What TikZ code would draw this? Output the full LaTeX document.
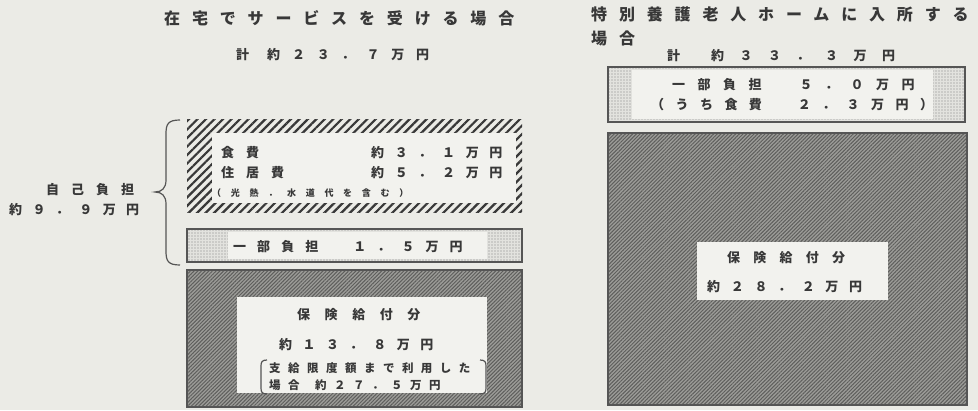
\documentclass[tikz,border=0pt]{standalone}
\usepackage{fontspec}
\newfontfamily\jp{Noto Sans CJK JP}
\usetikzlibrary{patterns.meta}
\newcommand\jt[2]{\jp\bfseries\fontsize{#1}{#1}\selectfont\addfontfeatures{LetterSpace=#2}}
\definecolor{paper}{HTML}{EBEBE6}
\definecolor{ink}{HTML}{383838}
\definecolor{frame}{HTML}{555555}
\definecolor{blank}{HTML}{F2F2EE}
\definecolor{stipbg}{HTML}{E2E2DE}
\definecolor{stip}{HTML}{808080}
\definecolor{shade}{HTML}{9C9C98}
\definecolor{shadeln}{HTML}{5E5E5C}
\tikzset{
  lbl/.style={anchor=west,inner sep=0pt,text=ink},
  hatchbox/.style={pattern={Lines[angle=45,distance=6pt,line width=2.2pt]},pattern color=ink},
  stipbox/.style={preaction={fill=stipbg},pattern={Dots[distance=3pt,radius=0.6pt]},pattern color=stip,draw=frame,line width=1.2pt},
  insbox/.style={preaction={fill=shade},pattern={Lines[angle=45,distance=2.6pt,line width=1pt]},pattern color=shadeln,draw=frame,line width=1.2pt},
  curl/.style={draw=frame,line width=1.2pt}
}
\begin{document}
\begin{tikzpicture}[x=1pt,y=-1pt]

\fill[paper] (0,0) rectangle (978,410);
\useasboundingbox (0,0) rectangle (978,410);

\fill[hatchbox] (187,119) rectangle (522,212);
\fill[blank] (212,133) rectangle (516,203);
\draw[stipbox] (187,229) rectangle (522,262);
\fill[blank] (228,232) rectangle (487,259);
\draw[insbox] (187,270) rectangle (522,407);
\fill[blank] (237,297) rectangle (487,393);

\draw[stipbox] (608,67) rectangle (965,122);
\fill[blank] (632,70) rectangle (933,119);
\draw[insbox] (608,133) rectangle (967,405);
\fill[blank] (697,242) rectangle (888,300);

\draw[curl] (180,120) .. controls (168,120) and (166,124) .. (166,134) -- (166,180)
  .. controls (166,188) and (162,192) .. (155,192) .. controls (162,192) and (166,196) .. (166,204)
  -- (166,251) .. controls (166,261) and (168,265) .. (180,265);
\draw[curl] (267,360) .. controls (262,360) and (261,362) .. (261,366) -- (261,388) .. controls (261,392) and (262,394) .. (267,394);
\draw[curl] (480,360) .. controls (485,360) and (486,362) .. (486,366) -- (486,388) .. controls (486,392) and (485,394) .. (480,394);

\node[lbl,font=\jt{16}{74}] (ttlL) at (164,18) {在宅でサービスを受ける場合};
\node[lbl,font=\jt{13}{91}] (sumL) at (236,55) {計\hspace{18pt}約２３．７万円};
\node[lbl,font=\jt{16}{74}] (ttlR) at (591,14) {特別養護老人ホームに入所する};
\node[lbl,font=\jt{16}{74}] (ttlRb) at (591,38) {場合};
\node[lbl,font=\jt{13}{119}] (sumR) at (667,56) {計\hspace{31pt}約３３．３万円};

\node[lbl,font=\jt{13}{92}] (selfA) at (46,190) {自己負担};
\node[lbl,font=\jt{13}{80}] (selfB) at (9,210) {約９．９万円};

\node[lbl,font=\jt{13}{92}] (foodL) at (221,153) {食費};
\node[lbl,font=\jt{13}{82}] (foodV) at (371,153) {約３．１万円};
\node[lbl,font=\jt{13}{92}] (houseL) at (221,173) {住居費};
\node[lbl,font=\jt{13}{82}] (houseV) at (371,173) {約５．２万円};
\node[lbl,font=\jt{9}{108}] (houseN) at (212,193) {（光熱．水道代を含む）};
\node[lbl,font=\jt{13}{85}] (copayL) at (233,247) {一部負担　１．５万円};
\node[lbl,font=\jt{13}{112}] (insL) at (297,315) {保険給付分};
\node[lbl,font=\jt{13}{81}] (insLv) at (279,345) {約１３．８万円};
\node[lbl,font=\jt{11.5}{65}] (limA) at (269,368) {支給限度額まで利用した};
\node[lbl,font=\jt{11.5}{65}] (limB) at (269,385) {場合\hspace{15.5pt}約２７．５万円};

\node[lbl,font=\jt{13}{96}] (copayR) at (672,85) {一部負担　５．０万円};
\node[lbl,font=\jt{13}{88}] (copayRn) at (651,105) {（うち食費　２．３万円）};
\node[lbl,font=\jt{13}{102}] (insR) at (727,258) {保険給付分};
\node[lbl,font=\jt{13}{82}] (insRv) at (707,287) {約２８．２万円};
\end{tikzpicture}
\end{document}
